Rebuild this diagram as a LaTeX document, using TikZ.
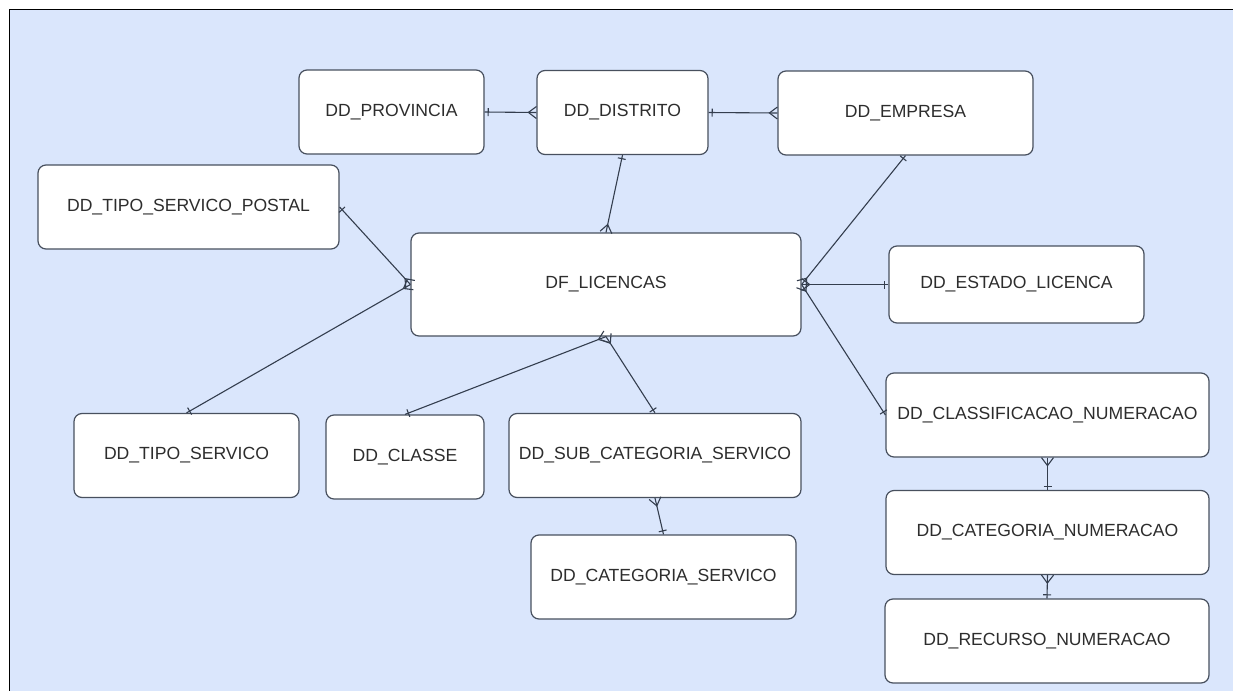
\documentclass[tikz,border=0pt]{standalone}
\usepackage{fontspec}
\setmainfont{Liberation Sans}
\usetikzlibrary{calc}
\definecolor{fundo}{RGB}{218,230,252}
\definecolor{borda}{RGB}{72,80,94}
\definecolor{linha}{RGB}{52,62,78}
\definecolor{texto}{RGB}{45,45,45}
\tikzset{
  tabela/.style={draw=borda, fill=white, rounded corners=4pt, line width=0.6pt,
    inner sep=0pt, minimum height=42pt, text=texto, font=\fontsize{8.8}{10}\selectfont},
  liga/.style={draw=linha, line width=0.55pt}
}
% barra (um) do lado da dimensao, pe de galinha (muitos) do outro lado
\newcommand{\relacao}[2]{%
  \draw[liga] (#1) -- (#2);
  \coordinate (um) at ($(#1)!1.8pt!(#2)$);
  \draw[liga] ($(um)!2pt!90:(#2)$) -- ($(um)!2pt!-90:(#2)$);
  \coordinate (pe) at ($(#2)!4pt!(#1)$);
  \draw[liga] ($(#2)!3pt!90:(#1)$) -- (pe) -- ($(#2)!3pt!-90:(#1)$);
}
\begin{document}
\begin{tikzpicture}[x=0.5pt,y=-0.5pt]
    \useasboundingbox (0,0) rectangle (1233,691);
    \fill[white] (0,0) rectangle (1233,691);
    \fill[fundo] (9.5,9.5) rectangle (1233,691);
    \draw[line width=0.6pt] (9.5,691) -- (9.5,9.5) -- (1233,9.5);

    \node[tabela, minimum width=92.5pt] (prov) at (391.5,112) {DD\_PROVINCIA};
    \node[tabela, minimum width=85.5pt] (dist) at (622.5,112.5) {DD\_DISTRITO};
    \node[tabela, minimum width=127.5pt] (emp) at (905.5,113) {DD\_EMPRESA};
    \node[tabela, minimum width=150.5pt] (postal) at (188.5,207) {DD\_TIPO\_SERVICO\_POSTAL};
    \node[tabela, minimum width=195pt, minimum height=51.5pt] (lic) at (606,284.5) {DF\_LICENCAS};
    \node[tabela, minimum width=127.5pt, minimum height=38.5pt] (estado) at (1016.5,284.5) {DD\_ESTADO\_LICENCA};
    \node[tabela, minimum width=161.5pt] (classif) at (1047.5,415) {DD\_CLASSIFICACAO\_NUMERACAO};
    \node[tabela, minimum width=112.5pt] (tiposerv) at (186.5,455.5) {DD\_TIPO\_SERVICO};
    \node[tabela, minimum width=79pt] (classe) at (405,457) {DD\_CLASSE};
    \node[tabela, minimum width=146pt] (subcat) at (655,455.5) {DD\_SUB\_CATEGORIA\_SERVICO};
    \node[tabela, minimum width=132.5pt] (catserv) at (663.5,577) {DD\_CATEGORIA\_SERVICO};
    \node[tabela, minimum width=161.5pt] (catnum) at (1047.5,532.5) {DD\_CATEGORIA\_NUMERACAO};
    \node[tabela, minimum width=162pt] (recurso) at (1047,641) {DD\_RECURSO\_NUMERACAO};

    \foreach \a/\b in {prov.east/dist.west, dist.east/emp.west, dist.south/lic.north,
        emp.south/lic.east, postal.east/lic.west, tiposerv.north/lic.west,
        estado.west/lic.east, classif.west/lic.east, classe.north/lic.south,
        subcat.north/lic.south, catserv.north/subcat.south,
        catnum.north/classif.south, recurso.north/catnum.south}{
    \relacao{\a}{\b}
    }
\end{tikzpicture}
\end{document}
